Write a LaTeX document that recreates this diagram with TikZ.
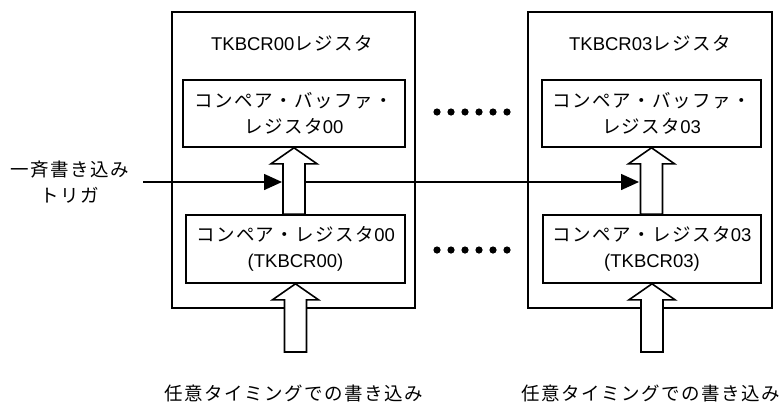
\documentclass[tikz,border=0pt]{standalone}
\usepackage{fontspec}
\setmainfont{Liberation Sans}
\newfontfamily\jp[LetterSpace=8]{Noto Sans CJK JP}
\usepackage{tikz}
\usetikzlibrary{arrows.meta, calc, positioning}

\tikzset{
	regbox/.style={draw,line width=1.6pt,minimum width=243pt,minimum height=296pt,inner sep=0pt},
	bufbox/.style={draw,line width=1.6pt,minimum height=67pt,inner sep=0pt,align=center,font=\fontsize{18.5}{26}\selectfont},
	txt/.style={align=center,inner sep=0pt,font=\fontsize{18.5}{26}\selectfont},
	fatarrow/.style={draw,fill=white,line width=1.6pt,line join=miter},
	trig/.style={line width=1.5pt,-{Triangle[length=18pt,width=16pt]}}
}

% hollow arrow: #1 tip, #2 tail
\newcommand{\fatarrow}[2]{%
	\path[fatarrow] (#1) -- ++(23,16) -- ++(-12,0) -- ($(#1 |- #2)+(11,0)$)
		-- ++(-22,0) -- ($(#1)+(-11,16)$) -- ++(-12,0) -- cycle;}

\begin{document}
\begin{tikzpicture}[x=1pt,y=-1pt]
	\useasboundingbox (0,0) rectangle (781,405);
	% registers
	\node (reg00) at (293.5,160) [regbox] {};
	\node (reg03) at (650,160) [regbox,minimum width=244pt] {};
	\node (name00) at (292,43) [txt] {TKBCR00{\jp レジスタ}};
	\node (name03) at (650,43) [txt] {TKBCR03{\jp レジスタ}};
	\node (buf00) at (294,113.5) [bufbox,minimum width=222pt] {{\jp コンペア・バッファ・}\\{\jp レジスタ}00};
	\node (buf03) at (651.5,113.5) [bufbox,minimum width=219pt] {{\jp コンペア・バッファ・}\\{\jp レジスタ}03};
	\node (cmp00) at (295.5,249) [bufbox,minimum width=219pt,minimum height=68pt] {{\jp コンペア・レジスタ}00\\(TKBCR00)};
	\node (cmp03) at (652,249) [bufbox,minimum width=218pt,minimum height=68pt] {{\jp コンペア・レジスタ}03\\(TKBCR03)};
	% dots between
	\foreach \i in {0,...,5} {
		\fill (437+14*\i,112) circle (3.6);
		\fill (437+14*\i,250) circle (3.6);
	}
	% trigger
	\node (trigger) at (70,182.5) [txt] {{\jp 一斉書き込み}\\{\jp トリガ}};
	\coordinate (tin) at (143,182);
	\coordinate (t00) at (282,182);
	\coordinate (t03) at (639,182);
	\draw[trig] (tin) -- (t00);
	\draw[trig] (t00) -- (t03);
	% transfer arrows
	\fatarrow{buf00.south}{cmp00.north}
	\fatarrow{buf03.south}{cmp03.north}
	% writes
	\coordinate (w00) at (293,352);
	\coordinate (w03) at (650,352);
	\fatarrow{cmp00.south}{w00}
	\fatarrow{cmp03.south}{w03}
	\node (wr00) at (294,393) [txt] {\jp 任意タイミングでの書き込み};
	\node (wr03) at (651,393) [txt] {\jp 任意タイミングでの書き込み};
\end{tikzpicture}
\end{document}
